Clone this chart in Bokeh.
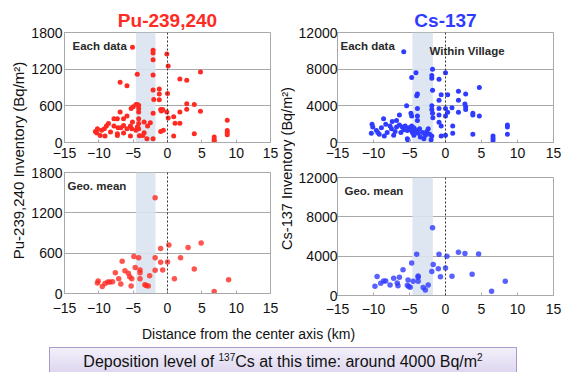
from bokeh.plotting import figure
from bokeh.layouts import row, column
from bokeh.models import Range1d, FixedTicker, Span, BoxAnnotation, Label, Div, Spacer
from bokeh.embed import file_html
from bokeh.resources import INLINE

FONT = "Liberation Sans"

# ---------------- data ----------------
x_ticks = [-15, -10, -5, 0, 5, 10, 15]
x_tick_labels = ["\u221215", "\u221210", "\u22125", "0", "5", "10", "15"]
pu_ticks = [0, 600, 1200, 1800]
pu_tick_labels = ["0", "600", "1200", "1800"]
cs_ticks = [0, 4000, 8000, 12000]
cs_tick_labels = ["0", "4000", "8000", "12000"]
band_range = [-4.6, -1.75]

# Pu-239,240 each data
pu_x = [-5.1, -2.1, -2.1, -2.1, -0.1, 0.1, 4.8, 1.8, 2.8, -6.9,
        -5.9, -4.4, -2.1, -2.1, -1.2, -1.2, -1.2, 0.0, -2.0, 2.8,
        3.9, 1.8, 2.8, 4.8, -1.0, -0.9, -0.7, -0.1, -2.1, -5.3,
        -5.0, -4.6, -4.4, -4.2, -4.2, -4.2, -6.9, -7.8, -7.3, -6.4,
        -5.9, -5.1, -4.2, -4.2, -2.5, -2.9, 0.9, 1.1, 1.8, 8.7,
        0.1, -8.6, -8.9, -7.8, -7.2, -6.8, -6.4, -10.2, -10.5, -10.3,
        -9.6, -9.2, -8.3, -7.3, -6.4, -5.9, -5.4, -5.2, -4.4, -4.2,
        -4.6, -3.6, -3.4, -9.8, -9.1, -7.3, -5.4, -3.0, -2.1, -1.0,
        -0.6, 0.9, 3.9, 6.8, 6.8, 6.8, 8.7, 8.7, 8.7, -3.4,
        -4.1]
pu_y = [1560, 1510, 1465, 1355, 1450, 1250, 1155, 1040, 1020, 985,
        930, 1115, 1105, 860, 875, 795, 700, 800, 705, 635,
        620, 500, 545, 510, 540, 515, 540, 500, 480, 555,
        585, 620, 620, 610, 555, 500, 500, 390, 390, 390,
        435, 335, 390, 310, 325, 270, 420, 315, 315, 365,
        400, 310, 270, 270, 240, 240, 280, 225, 180, 155,
        200, 225, 170, 145, 155, 225, 270, 225, 255, 225,
        200, 115, 160, 115, 105, 115, 105, 60, 60, 180,
        200, 105, 145, 90, 45, 20, 195, 160, 125, 335,
        110]

# Cs-137 each data
cs_x = [-5.8, -4.1, -4.7, -1.8, -1.9, -1.9, -0.9, 0.0, 4.7, 1.8,
        2.8, -1.8, -3.9, -4.0, -0.9, -0.6, 0.3, 1.8, 2.7, 2.8,
        -5.4, -3.9, -1.9, -1.9, -1.8, -0.9, 0.0, 0.3, 0.9, 1.8,
        2.8, 3.8, 3.8, 4.7, -0.9, 0.0, -1.75, -0.9, -0.6, 1.0,
        1.0, -0.6, 0.0, 3.8, 6.6, 6.6, 6.6, 8.6, 8.6, 8.6,
        -10.2, -10.1, -9.6, -10.3, -9.2, -8.6, -8.3, -8.9, -8.1, -8.5,
        -7.7, -7.4, -7.5, -7.2, -6.8, -6.4, -6.8, -6.4, -6.2, -6.0,
        -5.8, -5.6, -5.3, -5.3, -5.1, -5.2, -4.9, -4.8, -4.7, -4.7,
        -4.6, -4.4, -4.2, -4.0, -3.9, -3.9, -3.8, -3.6, -3.5, -3.2,
        -3.0, -2.8, -2.6, -2.4, -2.2, -2.0, -1.9, -9.4, -7.0, -4.4]
cs_y = [9900, 7600, 7100, 8000, 7300, 7000, 6900, 7600, 6000, 5600,
        5300, 5700, 5300, 5100, 4600, 5200, 5200, 4600, 4200, 3900,
        4000, 3700, 4000, 3600, 3200, 3700, 3700, 3300, 3800, 3300,
        3600, 3200, 3000, 2900, 3000, 2900, 2700, 2200, 1800, 1800,
        1000, 700, 800, 900, 700, 450, 200, 1900, 1700, 900,
        2000, 1700, 1300, 1000, 900, 2600, 2000, 1600, 1100, 700,
        1800, 2300, 1500, 800, 2400, 3000, 1700, 1900, 1100, 1700,
        1400, 1800, 1300, 400, 1600, 250, 1400, 3200, 2900, 1800,
        1100, 800, 1400, 1200, 2900, 2400, 1000, 1500, 600, 1100,
        400, 800, 1200, 1500, 900, 300, 700, 1100, 1200, 1600]

# Pu-239,240 geometric means
pu_gx = [-1.8, -1.0, 0.2, 3.0, 4.9, 1.9, 0.0, -1.0, -1.8, -0.7,
         -1.8, -2.6, 3.9, 1.0, 8.9, 6.8, -4.2, -4.9, -6.6, -7.6,
         -6.2, -5.7, -5.5, -5.2, -4.7, -4.0, -4.0, -4.0, -5.3, -3.3,
         -3.1, -2.8, -7.1, -6.8, -8.0, -8.4, -8.7, -9.1, -9.5, -10.1,
         -10.2]
pu_gy = [1425, 670, 720, 685, 750, 530, 470, 465, 530, 350,
         345, 265, 365, 220, 205, 30, 530, 550, 480, 310,
         340, 300, 250, 220, 385, 350, 310, 220, 110, 130,
         120, 110, 220, 140, 175, 170, 170, 150, 105, 185,
         155]

# Cs-137 geometric means
cs_gx = [-1.8, -4.0, -0.9, 0.2, 1.8, 2.7, 4.6, -4.7, -1.7, -1.0,
         0.0, -1.9, -0.7, 0.9, 3.7, 8.3, 6.4, -5.9, -3.8, -3.8,
         -4.5, -3.8, -5.2, -6.4, -7.2, -6.7, -6.6, -7.7, -8.3, -8.6,
         -9.0, -9.5, -9.8, -5.3, -5.1, -4.9, -3.1, -2.8, -2.4]
cs_gy = [6900, 4200, 4200, 4000, 4400, 4270, 4230, 3300, 3150, 2720,
         2790, 2450, 1900, 1950, 2150, 1450, 440, 2620, 1980, 1850,
         1450, 1450, 1580, 1850, 1750, 1280, 1000, 1080, 1480, 1480,
         1240, 1920, 940, 1040, 910, 840, 810, 570, 1080]

RED = "#ff2a22"
BLUE = "#2f3bff"
GRID = "#a9a9a9"


def panel(xs, ys, color, yticks, ylabels, w, h, mbl, mbr, mbt, mbb,
          standoff, ystandoff, size, alpha, title=None, title_color=None, title_offset=0):
    p = figure(width=w, height=h, x_range=Range1d(-15, 15),
               y_range=Range1d(yticks[0], yticks[-1]),
               output_backend="svg", toolbar_location=None,
               min_border_left=mbl, min_border_right=mbr,
               min_border_top=mbt, min_border_bottom=mbb)
    if title:
        p.title.text = title
        p.title.align = "center"
        p.title.offset = title_offset
        p.title.standoff = 4
        p.title.text_font = FONT
        p.title.text_font_size = "19px"
        p.title.text_font_style = "bold"
        p.title.text_color = title_color
    p.outline_line_color = GRID
    p.background_fill_color = "white"
    p.border_fill_color = "white"
    p.xgrid.visible = False
    p.ygrid.grid_line_color = GRID
    p.ygrid.grid_line_width = 1
    p.xaxis.ticker = FixedTicker(ticks=x_ticks)
    p.xaxis.major_label_overrides = {t: l for t, l in zip(x_ticks, x_tick_labels)}
    p.yaxis.ticker = FixedTicker(ticks=yticks)
    p.yaxis.major_label_overrides = {t: l for t, l in zip(yticks, ylabels)}
    for ax in (p.xaxis[0], p.yaxis[0]):
        ax.axis_line_color = GRID
        ax.major_tick_line_color = GRID
        ax.major_tick_in = 3
        ax.major_tick_out = 0
        ax.minor_tick_line_color = None
        ax.major_label_text_font = FONT
        ax.major_label_text_font_size = "14px"
        ax.major_label_text_color = "#111111"
    p.xaxis.major_label_standoff = standoff
    p.yaxis.major_label_standoff = ystandoff
    band = BoxAnnotation(left=band_range[0], right=band_range[1],
                         fill_color="#d9e3ef", fill_alpha=0.9,
                         line_color=None, level="underlay")
    p.add_layout(band)
    p.add_layout(Span(location=0, dimension="height", line_color="#333333",
                      line_width=1, line_dash="2 2"))
    p.scatter(xs, ys, marker="circle", size=size, fill_color=color,
              fill_alpha=alpha, line_color=None)
    return p


def note(p, text, x, y, size="11.5px"):
    p.add_layout(Label(x=x, y=y, x_units="screen", y_units="screen", text=text,
                       text_font=FONT, text_font_size=size,
                       text_font_style="bold", text_color="#2a2a2a",
                       text_baseline="middle"))


tl = panel(pu_x, pu_y, RED, pu_ticks, pu_tick_labels, 250, 165, 34, 8, 32, 23, 5, 2, 5, 1.0,
           "Pu-239,240", RED, 3)
tr = panel(cs_x, cs_y, BLUE, cs_ticks, cs_tick_labels, 273, 165, 39, 12, 32, 23, 5, 0, 5, 1.0,
           "Cs-137", BLUE, -25)
bl = panel(pu_gx, pu_gy, RED, pu_ticks, pu_tick_labels, 250, 157, 34, 8, 7, 29, 9, 2, 5.5, 0.8)
br = panel(cs_gx, cs_gy, BLUE, cs_ticks, cs_tick_labels, 273, 157, 39, 15, 12, 27, 8, 0, 5.5, 0.8)

note(tl, "Each data", 8, 97)
note(tr, "Each data", 3, 97)
note(tr, "Within Village", 92, 92)
note(bl, "Geo. mean", 3, 108)
note(br, "Geo. mean", 7, 105)


def text_fig(w, h, labels):
    f = figure(width=w, height=h, x_axis_type=None, y_axis_type=None,
               min_border=0, toolbar_location=None, output_backend="svg",
               x_range=Range1d(0, 1), y_range=Range1d(0, 1))
    f.outline_line_color = None
    for (text, x, y, size, angle) in labels:
        f.add_layout(Label(x=x, y=y, x_units="screen", y_units="screen", text=text,
                           text_font=FONT, text_font_size=size, text_color="#111111",
                           angle=angle, angle_units="deg",
                           text_align="center", text_baseline="middle"))
    return f


yl = text_fig(28, 322, [("Pu-239,240 Inventory (Bq/m\u00b2)", 18, 162, "15px", 90)])
yr = text_fig(17, 322, [("Cs-137 Inventory (Bq/m\u00b2)", 8.5, 154, "14.5px", 90)])
xl = text_fig(568, 20, [("Distance from the center axis (km)", 248, 9, "14px", 0)])

box = Div(width=468, height=30, text=(
    '<div style="box-sizing:border-box;width:468px;height:30px;'
    'border:1px solid #a999cc;background:linear-gradient(#f3f0fa,#dbd3ee);'
    "font-family:'Liberation Sans';font-size:16px;line-height:28px;"
    'text-align:center;color:#111111;white-space:nowrap;">'
    'Deposition level of <span style="font-size:10px;vertical-align:6px;line-height:0">137</span>Cs'
    ' at this time: around 4000 Bq/m'
    '<span style="font-size:10px;vertical-align:6px;line-height:0">2</span></div>'))

layout = column(
    row(yl, column(tl, bl), yr, column(tr, br)),
    xl,
    row(Spacer(width=44, height=30), box),
)

open("out.html", "w").write(file_html(layout, INLINE))
